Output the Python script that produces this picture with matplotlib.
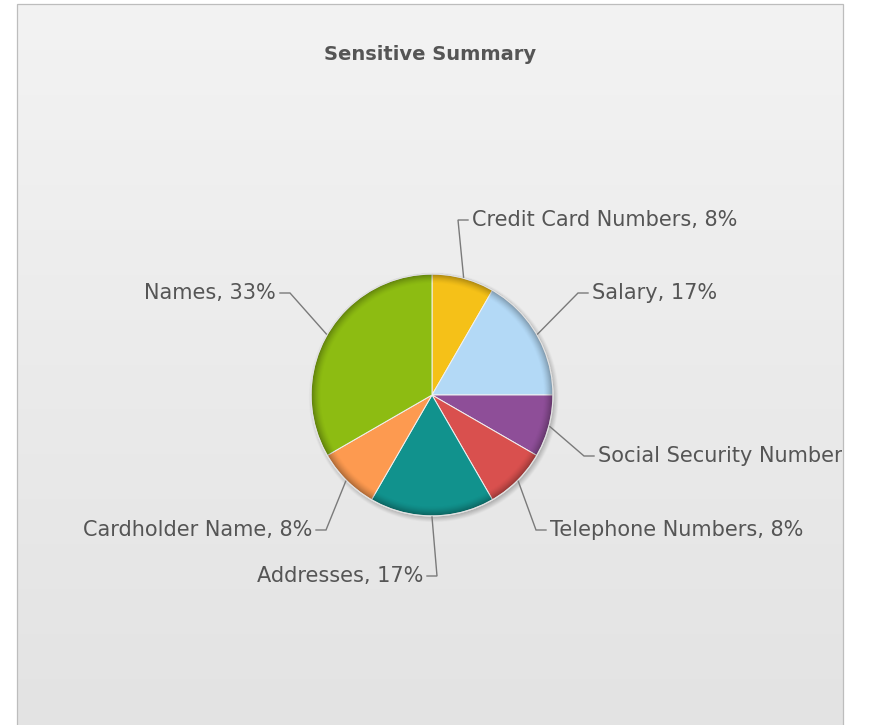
import numpy as np
import matplotlib
matplotlib.use("Agg")
import matplotlib.pyplot as plt
from matplotlib.patches import Rectangle, Circle

W, H = 869, 725

title = "Sensitive Summary"
categories = ["Credit Card Numbers", "Salary", "Social Security Numbers",
              "Telephone Numbers", "Addresses", "Cardholder Name", "Names"]
counts = [1, 2, 1, 1, 2, 1, 4]
colors = ["#F5C118", "#B3D9F6", "#8E4E98", "#D9504E", "#11928D", "#FD9A50", "#8DBC12"]

# label elbow positions (pixel coords from top-left) and text side
label_layout = [(458, 220, 1), (578, 293, 1), (584, 456, 1), (536, 530, 1),
                (437, 576, -1), (326, 530, -1), (290, 293, -1)]

cx, cy_img, R = 432, 395, 121
cy = H - cy_img
text_color = "#555555"
line_color = "#7a7a7a"

fig = plt.figure(figsize=(W / 100, H / 100), dpi=100, facecolor="white")
ax = fig.add_axes([0, 0, 1, 1])

# pie chart
wedges, _ = ax.pie(counts, colors=colors, startangle=90, counterclock=False,
                   center=(cx, cy), radius=R,
                   wedgeprops=dict(edgecolor="#f2f2f2", linewidth=0.7, zorder=3))

ax.set_xlim(0, W)
ax.set_ylim(0, H)
ax.set_aspect("equal")
ax.axis("off")

# panel background with vertical gradient
px0, px1, ptop = 17, 843, H - 4
grad = np.linspace(0, 1, 256)[:, None]
top_c = np.array([0xF3, 0xF3, 0xF3]) / 255
bot_c = np.array([0xE3, 0xE3, 0xE3]) / 255
img = bot_c[None, None, :] * (1 - grad[..., None]) + top_c[None, None, :] * grad[..., None]
ax.imshow(img, extent=(px0, px1, 0, ptop), origin="lower", aspect="auto", zorder=0)
ax.add_patch(Rectangle((px0, -5), px1 - px0, ptop + 5, fill=False,
                       edgecolor="#BDBDBD", linewidth=0.9, zorder=1))
panel_clip = Rectangle((px0, 0), px1 - px0 - 1, ptop, transform=ax.transData)

# drop shadow and inner bevel around the pie
pad = 14
step = 0.5
xs = np.arange(cx - R - pad, cx + R + pad, step)
ys = np.arange(cy - R - pad, cy + R + pad, step)
X, Y = np.meshgrid(xs, ys)
r_sh = np.hypot(X - (cx + 1.5), Y - (cy - 2.5))
a_sh = np.clip((R + 4 - r_sh) / 6, 0, 1) * 0.4
shadow = np.zeros(X.shape + (4,))
shadow[..., :3] = 0.35
shadow[..., 3] = a_sh
ext = (xs[0], xs[-1] + step, ys[0], ys[-1] + step)
ax.imshow(shadow, extent=ext, origin="lower", aspect="auto", zorder=2,
          interpolation="bilinear")

r = np.hypot(X - cx, Y - cy)
d = R - r
bevel = np.zeros(X.shape + (4,))
a_bv = np.where((d >= 0) & (d < 10), 0.34 * np.clip(1 - d / 10, 0, 1) ** 1.5, 0)
bevel[..., 3] = a_bv
ax.imshow(bevel, extent=ext, origin="lower", aspect="auto", zorder=4,
          interpolation="bilinear")
ax.add_patch(Circle((cx, cy), R, fill=False, edgecolor="#E2E2E2",
                    linewidth=0.9, zorder=5))

# leader lines and labels
total = sum(counts)
for w, cat, n, (ex, ey_img, side) in zip(wedges, categories, counts, label_layout):
    mid = np.deg2rad((w.theta1 + w.theta2) / 2)
    sx = cx + (R + 1) * np.cos(mid)
    sy = cy + (R + 1) * np.sin(mid)
    ey = H - ey_img
    hx = ex + side * 10
    ax.plot([sx, ex, hx], [sy, ey, ey], color=line_color, lw=1.0,
            solid_joinstyle="miter", zorder=6)
    pct = round(100 * n / total)
    t = ax.text(hx + side * 4, ey, f"{cat}, {pct}%",
                ha="left" if side > 0 else "right", va="center",
                fontsize=15, color=text_color, zorder=7, clip_on=True)
    t.set_clip_path(panel_clip)

ax.text(430, H - 54, title, ha="center", va="center",
        fontsize=14, fontweight="bold", color=text_color, zorder=7)

fig.savefig("out.png", dpi=100, facecolor="white")
